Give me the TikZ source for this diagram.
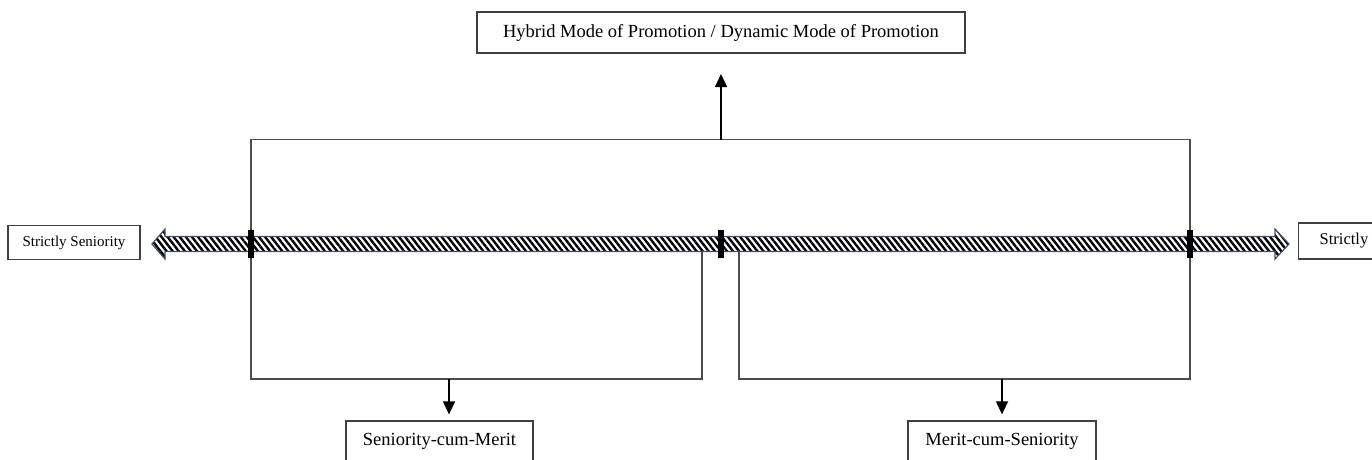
\documentclass[tikz,border=0pt]{standalone}
\usepackage{fontspec}
\setmainfont{Liberation Serif}
\usetikzlibrary{arrows.meta,patterns.meta,calc}
\tikzset{
    modebox/.style={draw=black!75, line width=1.3pt, inner sep=0pt, minimum height=41pt, font=\fontsize{18.5}{22}\selectfont},
    sidebox/.style={draw=black!75, line width=1.3pt, inner sep=0pt, minimum height=34pt, font=\fontsize{15}{18}\selectfont},
    bracket/.style={draw=black!70, line width=1.3pt},
    tick/.style={fill=black},
}
\begin{document}
\begin{tikzpicture}[x=1pt, y=-1pt]
    \useasboundingbox (0, 0) rectangle (1372, 459);
    % Boxes
    \node [modebox, minimum width=488pt] (hybrid) at (721, 32.5) {Hybrid Mode of Promotion / Dynamic Mode of Promotion};
    \node [modebox, minimum width=187pt] (scm) at (439.5, 441.5) {Seniority-cum-Merit};
    \node [modebox, minimum width=188pt] (mcs) at (1002, 441.5) {Merit-cum-Seniority};
    \node [sidebox, minimum width=132pt] (strsen) at (74, 242.5) {Strictly Seniority};
    \node [sidebox, minimum height=36pt, minimum width=120pt, anchor=west, text width=96pt, inner xsep=21pt, align=left, font=\fontsize{16.5}{19}\selectfont] (strmer) at (1298, 241) {Strictly};
    % Scale arrow
    \coordinate (ltip) at (152, 244);
    \coordinate (rtip) at (1289, 244);
    \fill [pattern={Lines[angle=-52, distance=4.8pt, line width=2.4pt]}, pattern color=black]
        (ltip) -- (165, 229) -- (165, 236.5) -- (1275, 236.5) -- (1275, 229) -- (rtip)
        -- (1275, 259) -- (1275, 251.5) -- (165, 251.5) -- (165, 259) -- cycle;
    \draw [line width=1.2pt, draw={rgb,255:red,70;green,80;blue,100}]
        (ltip) -- (165, 229) -- (165, 236.5) -- (1275, 236.5) -- (1275, 229) -- (rtip)
        -- (1275, 259) -- (1275, 251.5) -- (165, 251.5) -- (165, 259) -- cycle;
    % Brackets
    \coordinate (lmark) at (251, 244);
    \coordinate (mmark) at (721, 244);
    \coordinate (rmark) at (1190, 244);
    \coordinate (top) at (721, 139.5);
    \coordinate (lbot) at (449, 379);
    \coordinate (rbot) at (1002, 379);
    \draw [bracket] (lmark) -- (251, 139.5) -- (1190, 139.5) -- (rmark);
    \draw [bracket] (lmark) -- (251, 379) -- (702, 379) -- (702, 251.5);
    \draw [bracket] (739, 251.5) -- (739, 379) -- (1190, 379) -- (rmark);
    \foreach \m in {lmark, mmark, rmark}
        \fill [tick] ($(\m) + (-2.6, -14.5)$) rectangle ($(\m) + (2.6, 13.5)$);
    % Arrows
    \draw [-{Triangle[length=13pt, width=12pt]}, line width=1.3pt] (top) -- (721, 74);
    \draw [-{Triangle[length=13pt, width=12pt]}, line width=1.3pt, shorten >=6pt] (lbot) -- (lbot |- scm.north);
    \draw [-{Triangle[length=13pt, width=12pt]}, line width=1.3pt, shorten >=6pt] (rbot) -- (rbot |- mcs.north);
\end{tikzpicture}
\end{document}
